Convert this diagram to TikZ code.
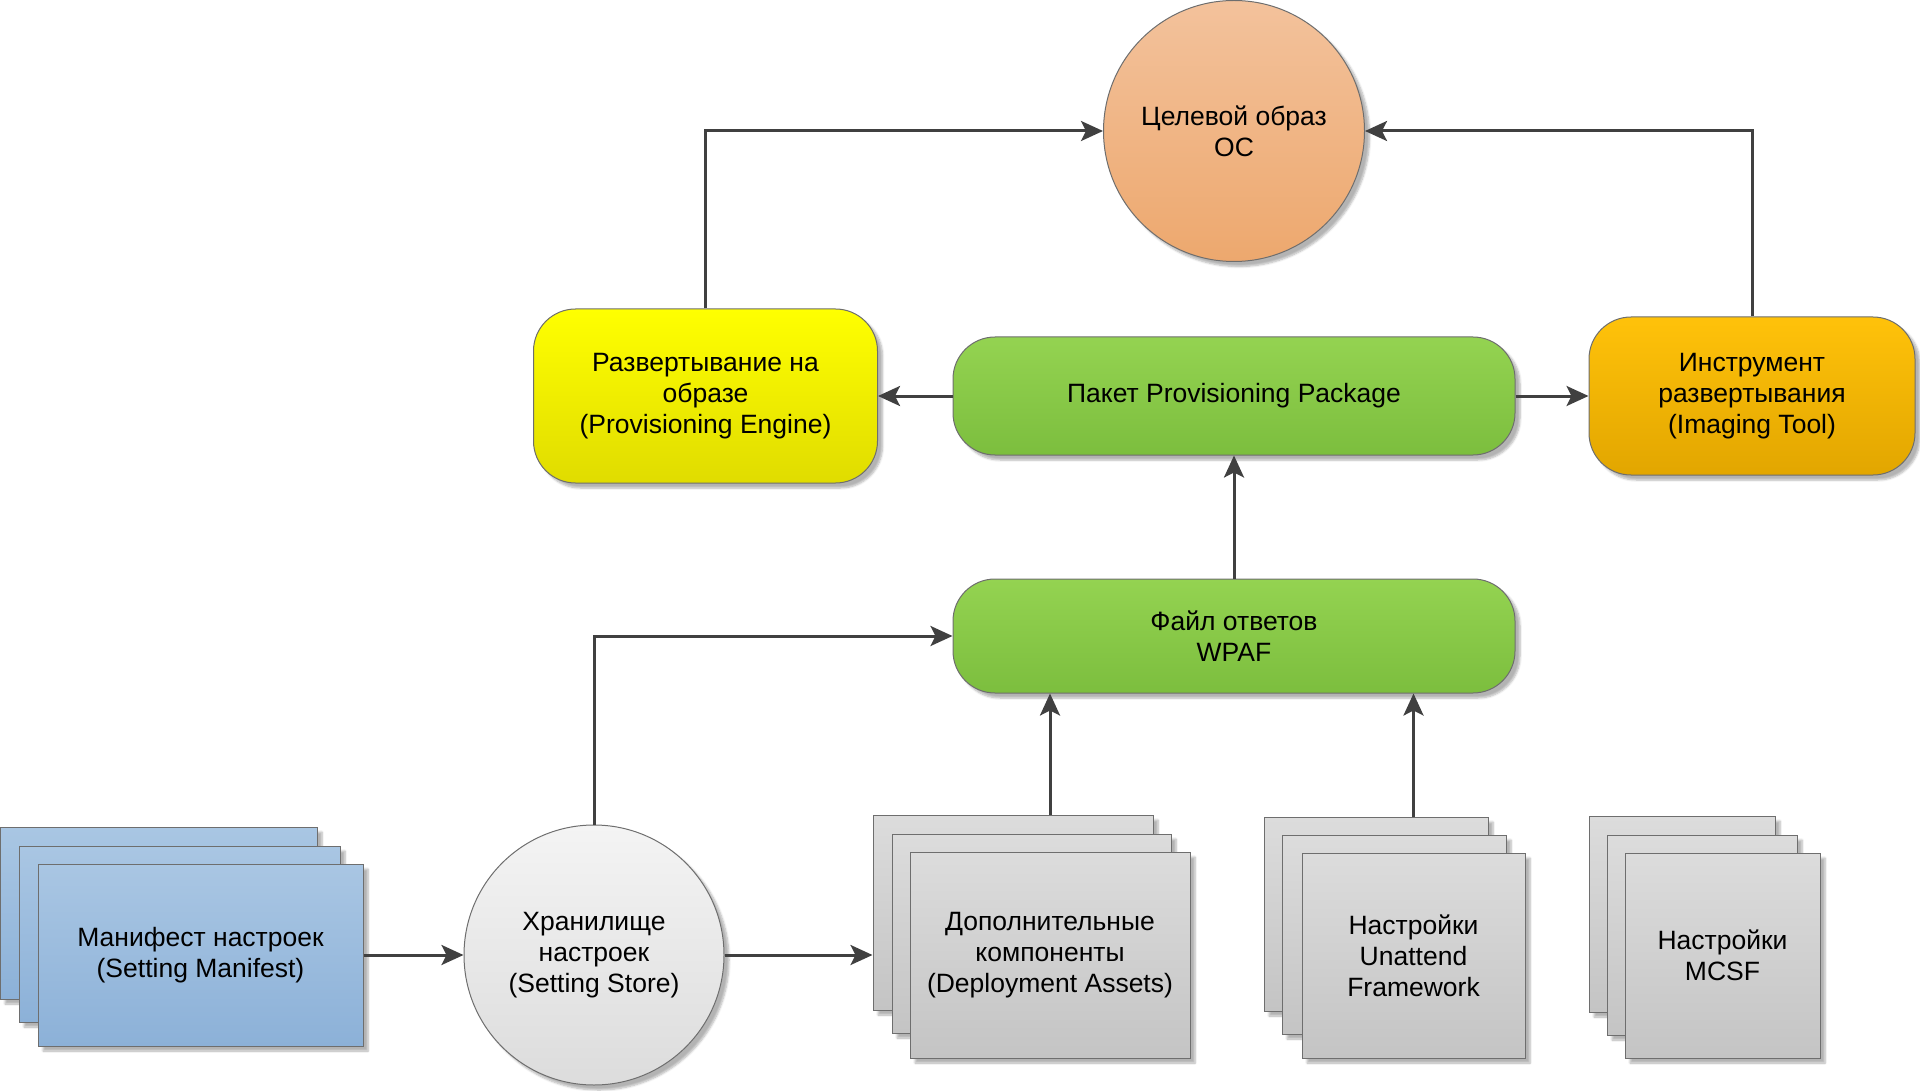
\documentclass[tikz,border=0pt]{standalone}
\usepackage{fontspec}
\setmainfont{Liberation Sans}
\usetikzlibrary{arrows.meta,shadows.blur,calc}
\definecolor{edge}{HTML}{6E6E6E}
\definecolor{arrowc}{HTML}{404040}
\definecolor{osT}{HTML}{F3C29C}
\definecolor{osB}{HTML}{EDA86E}
\definecolor{yelT}{HTML}{FFFF00}
\definecolor{yelB}{HTML}{E0DC00}
\definecolor{grnT}{HTML}{94D351}
\definecolor{grnB}{HTML}{7CBE3E}
\definecolor{orgT}{HTML}{FFC20A}
\definecolor{orgB}{HTML}{E2A600}
\definecolor{bluT}{HTML}{A9C6E3}
\definecolor{bluB}{HTML}{8CB1D8}
\definecolor{gryT}{HTML}{DCDCDC}
\definecolor{gryB}{HTML}{C4C4C4}
\definecolor{stT}{HTML}{F4F4F4}
\definecolor{stB}{HTML}{DCDCDC}
\begin{document}
\begin{tikzpicture}[x=1pt,y=-1pt,
  base/.style={draw=edge, line width=1pt, align=center, text=black,
    font=\fontsize{26.5}{31}\selectfont, inner sep=0pt,
    blur shadow={shadow xshift=5pt, shadow yshift=-5pt, shadow blur steps=6, shadow opacity=30}},
  sz/.style 2 args={minimum width=#1pt, minimum height=#2pt},
  circ/.style={base, circle, minimum size=#1pt},
  pill/.style={base, rectangle, rounded corners=42pt},
  sq/.style={base, rectangle},
  osfill/.style={top color=osT, bottom color=osB},
  yelfill/.style={top color=yelT, bottom color=yelB},
  grnfill/.style={top color=grnT, bottom color=grnB},
  orgfill/.style={top color=orgT, bottom color=orgB},
  blufill/.style={top color=bluT, bottom color=bluB},
  gryfill/.style={top color=gryT, bottom color=gryB},
  stfill/.style={top color=stT, bottom color=stB},
  arr/.style={draw=arrowc, line width=3pt, -{Stealth[length=22pt, width=20pt, inset=5pt]}}
]
\useasboundingbox (0,0) rectangle (1920,1091);

% top
\node[circ=261, osfill] (os) at (1234,131) {Целевой образ\\ОС};
\node[pill, yelfill, sz={344}{174}] (eng) at (705.5,396) {Развертывание на\\образе\\(Provisioning Engine)};
\node[pill, grnfill, sz={562}{118}] (pkg) at (1234,396) {Пакет Provisioning Package};
\node[pill, orgfill, sz={326}{158}] (tool) at (1752,396) {Инструмент\\развертывания\\(Imaging Tool)};
\node[pill, grnfill, sz={562}{114}] (wpaf) at (1234,636) {Файл ответов\\WPAF};

% bottom
\node[circ=260, stfill] (store) at (594,955) {Хранилище\\настроек\\(Setting Store)};

\node[sq, blufill, sz={317}{172}] (manA) at (158.5,913) {};
\node[sq, blufill, sz={321}{176}] (manB) at (179.5,934) {};
\node[sq, blufill, sz={325}{182}] (man) at (200.5,955) {Манифест настроек\\(Setting Manifest)};

\node[sq, gryfill, sz={280}{195}] (depA) at (1013,912.5) {};
\node[sq, gryfill, sz={279}{199}] (depB) at (1031.5,933.5) {};
\node[sq, gryfill, sz={280}{206}] (dep) at (1050,955) {Дополнительные\\компоненты\\(Deployment Assets)};

\node[sq, gryfill, sz={224}{194}] (unaA) at (1376,914) {};
\node[sq, gryfill, sz={224}{199}] (unaB) at (1394,934.5) {};
\node[sq, gryfill, sz={223}{205}] (una) at (1413.5,955.5) {Настройки\\Unattend\\Framework};

\node[sq, gryfill, sz={186}{196}] (mcsA) at (1682,914) {};
\node[sq, gryfill, sz={190}{200}] (mcsB) at (1702,935) {};
\node[sq, gryfill, sz={195}{205}] (mcs) at (1722.5,955.5) {Настройки\\MCSF};

% connectors
\draw[arr] (eng.north) |- (os.west);
\draw[arr] (tool.north) |- (os.east);
\draw[arr] (pkg.west) -- (eng.east);
\draw[arr] (pkg.east) -- (tool.west);
\draw[arr] (wpaf.north) -- (pkg.south);
\draw[arr] (store.north) |- (wpaf.west);
\draw[arr] (man.east) -- (store.west);
\draw[arr] (store.east) -- (store.east -| depA.west);
\draw[arr] (depA.north -| dep.center) -- (wpaf.south -| dep.center);
\draw[arr] (unaA.north -| una.center) -- (wpaf.south -| una.center);
\end{tikzpicture}
\end{document}
